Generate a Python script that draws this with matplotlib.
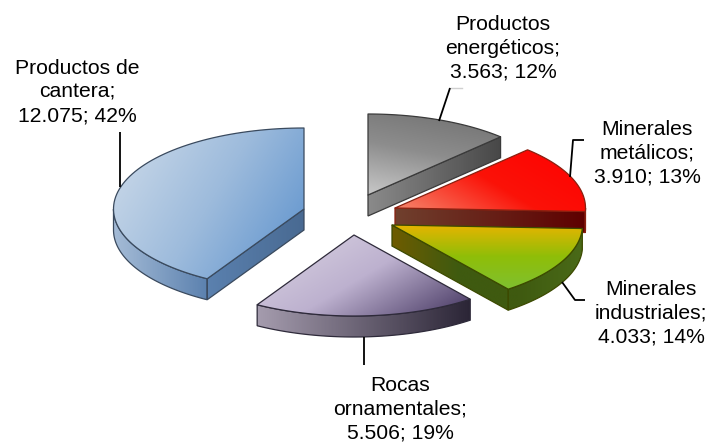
import numpy as np
import matplotlib
matplotlib.use("Agg")
import matplotlib.pyplot as plt
from matplotlib.colors import LinearSegmentedColormap
from matplotlib.patches import Polygon

plt.rcParams['font.family'] = ['Liberation Sans', 'DejaVu Sans']

# chart data
categories = ["Productos\nenergéticos", "Minerales\nmetálicos", "Minerales\nindustriales",
              "Rocas\nornamentales", "Productos de\ncantera"]
values = [3563, 3910, 4033, 5506, 12075]
percents = [12, 13, 14, 19, 42]
value_labels = ["3.563", "3.910", "4.033", "5.506", "12.075"]

# layout of the exploded slices, in pixels of the 711x442 image
RX, RY, DEPTH = 190.5, 81, 21
apex_x = [368, 395, 392, 354, 304]
apex_y = [195, 208, 225, 235, 209]

# top face colours, gradient direction, wall colours, outline colour
top_colors = [["#707070", "#8d8d8d", "#c8c8c8"],
              ["#ff0000", "#fb1208", "#f58a70"],
              ["#e8b400", "#8fbe08", "#7fc030"],
              ["#dcd6e4", "#bdb1cf", "#43345f"],
              ["#cfdcea", "#9dbbdc", "#5a90cc"]]
top_dirs = [(-0.2, 1), (-0.6, 1), (0, 1), (0.6, 1), (1, 0.6)]
wall_colors = [["#8a8a8a", "#484848"],
               ["#70402e", "#5e0000"],
               ["#6e5c00", "#3f5a10", "#3f5a10", "#4a6a18"],
               ["#a59cae", "#2b2536"],
               ["#a4bbd6", "#5a80ae", "#496a92"]]
edge_colors = ["#3a3a3a", "#8a2010", "#3c4a00", "#2e2a3a", "#3a4a5e"]

# label centres and leader lines
label_xy = [(503, 48), (647, 153), (651, 313), (400, 409), (77, 92)]
leaders = [[(450, 88), (439, 121)],
           [(570, 177), (573, 140), (584, 140)],
           [(562, 282), (575, 300), (585, 300)],
           [(364, 337), (364, 365)],
           [(120, 132), (120, 187)]]


def gradient_fill(ax, poly, colors, direction, zorder):
    """Paint a polygon with a linear gradient, clipped with an image."""
    pts = np.array(poly.get_xy())
    x0, y0 = pts.min(axis=0)
    x1, y1 = pts.max(axis=0)
    xx, yy = np.meshgrid(np.linspace(x0, x1, 200), np.linspace(y0, y1, 200))
    t = xx * direction[0] + yy * direction[1]
    t = (t - t.min()) / (t.max() - t.min())
    cmap = LinearSegmentedColormap.from_list("g", colors)
    im = ax.imshow(t, cmap=cmap, extent=(x0, x1, y1, y0), aspect="auto",
                   origin="upper", zorder=zorder, interpolation="bilinear")
    im.set_clip_path(poly)


fig = plt.figure(figsize=(7.11, 4.42), dpi=100)
ax = fig.add_axes([0, 0, 1, 1])

# slice angles, clockwise from twelve o'clock
bounds = np.concatenate([[0], np.cumsum(values)]) / np.sum(values) * 2 * np.pi

for i in range(len(values)):
    a1, a2 = bounds[i], bounds[i + 1]
    cx, cy = apex_x[i], apex_y[i]
    z = 2 + i * 3
    arc = np.linspace(a1, a2, 80)
    ax_pts = np.column_stack([cx + RX * np.sin(arc), cy - RY * np.cos(arc)])
    top = np.vstack([[cx, cy], ax_pts])

    # only the side walls that face the viewer
    walls = []
    if np.sin(a1) < -1e-6:
        p = ax_pts[0]
        walls.append(np.array([[cx, cy], p, p + [0, DEPTH], [cx, cy + DEPTH]]))
    if np.sin(a2) > 1e-6:
        p = ax_pts[-1]
        walls.append(np.array([[cx, cy], p, p + [0, DEPTH], [cx, cy + DEPTH]]))
    lo, hi = max(a1, np.pi / 2), min(a2, 3 * np.pi / 2)
    if lo < hi:
        front = np.linspace(lo, hi, 60)
        upper = np.column_stack([cx + RX * np.sin(front), cy - RY * np.cos(front)])
        walls.append(np.vstack([upper, (upper + [0, DEPTH])[::-1]]))

    # the wall gradient spans the whole slice so the pieces join up
    span = np.vstack(walls + [top])
    for w in walls:
        x_lo, x_hi = span[:, 0].min(), span[:, 0].max()
        f0 = (w[:, 0].min() - x_lo) / (x_hi - x_lo)
        f1 = (w[:, 0].max() - x_lo) / (x_hi - x_lo)
        cmap = LinearSegmentedColormap.from_list("w", wall_colors[i])
        part = [cmap(f) for f in np.linspace(f0, f1, 8)]
        patch = Polygon(w, closed=True, facecolor="none", edgecolor=edge_colors[i],
                        linewidth=0.9, zorder=z + 1)
        ax.add_patch(patch)
        gradient_fill(ax, patch, part, (1, 0), z)

    face = Polygon(top, closed=True, facecolor="none", edgecolor=edge_colors[i],
                   linewidth=0.9, joinstyle="round", zorder=z + 2)
    ax.add_patch(face)
    gradient_fill(ax, face, top_colors[i], top_dirs[i], z + 1.5)

    # leader and data label
    lx, ly = zip(*leaders[i])
    ax.plot(lx, ly, color="black", linewidth=1.3, zorder=30, solid_capstyle="butt")
    ax.text(label_xy[i][0], label_xy[i][1],
            f"{categories[i]};\n{value_labels[i]}; {percents[i]}%",
            ha="center", va="center", fontsize=15.2, color="black",
            linespacing=1.32, zorder=31)

ax.plot([450, 462], [88, 88], color="#d0d0d0", linewidth=1, zorder=29)

ax.set_xlim(0, 711)
ax.set_ylim(442, 0)
ax.axis("off")

fig.savefig("out.png", dpi=100)
